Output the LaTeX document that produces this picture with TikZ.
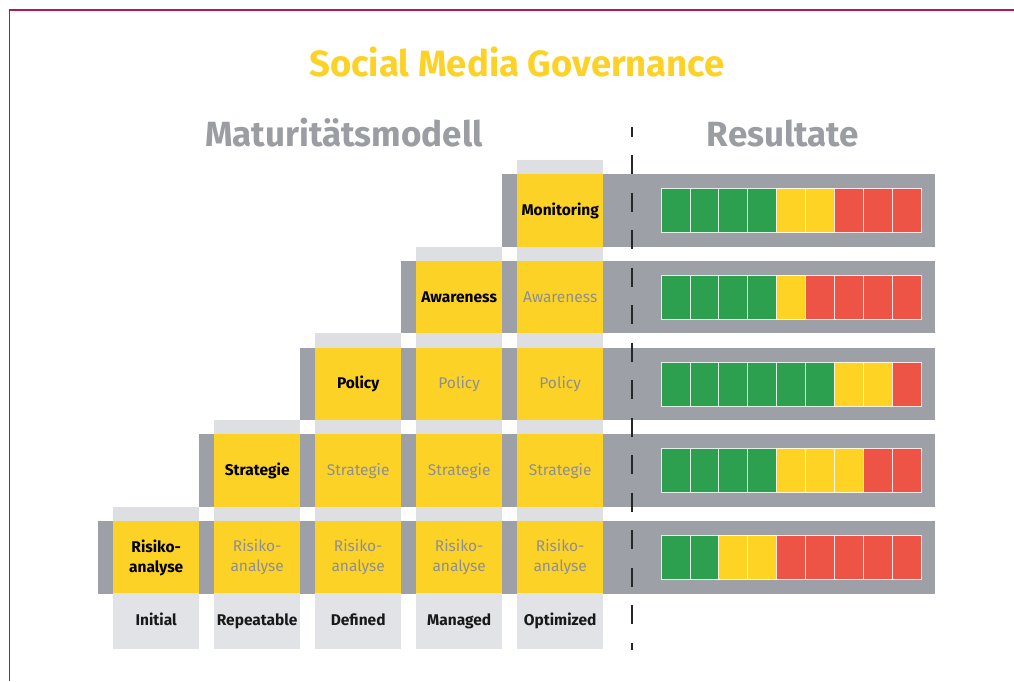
\documentclass[tikz,border=0pt]{standalone}
\usepackage{fontspec}
\setmainfont{Fira Sans}
\definecolor{frameRed}{HTML}{B5174E}
\definecolor{smYellow}{HTML}{FDD227}
\definecolor{bandGray}{HTML}{9DA1A7}
\definecolor{capGray}{HTML}{DDDFE2}
\definecolor{labelGray}{HTML}{E1E3E6}
\definecolor{cellGray}{HTML}{8C8F94}
\definecolor{headGray}{HTML}{9A9DA2}
\definecolor{segG}{HTML}{2CA04F}
\definecolor{segY}{HTML}{FED324}
\definecolor{segR}{HTML}{EE5446}
\begin{document}
\begin{tikzpicture}[x=1pt,y=-1pt,
  cellbox/.style={fill=smYellow, anchor=north west, minimum width=86pt,
    minimum height=72.5pt, inner sep=0pt, align=center,
    font=\fontsize{15.5}{20}\selectfont},
  activecell/.style={cellbox, text=black, font=\fontsize{15.5}{20}\selectfont\bfseries},
  passivecell/.style={cellbox, text=cellGray},
  levelbox/.style={fill=labelGray, anchor=north west, minimum width=86pt,
    minimum height=56pt, inner sep=0pt, text height=11pt, text depth=2pt,
    text=black!90, font=\fontsize{15.5}{19}\selectfont\bfseries},
  band/.style={fill=bandGray},
  capstrip/.style={fill=capGray},
  dashline/.style={line width=2.2pt, draw=black!85, dash pattern=on 19pt off 18.5pt, dash phase=9.5pt},
  heading/.style={anchor=base, text=headGray, font=\fontsize{35}{38}\selectfont\bfseries},
]
\useasboundingbox (0,0) rectangle (1014,681);
\fill[white] (0,0) rectangle (1014,681);

% page frame
\draw[frameRed, line width=1.6pt] (9.5,681) -- (9.5,10) -- (1014,10);

% titles
\node[anchor=base, text=smYellow, font=\fontsize{36.5}{40}\selectfont\bfseries]
  (title) at (517,76) {Social Media Governance};
\node[heading] (head-model) at (344,146) {Maturitätsmodell};
\node[heading] (head-result) at (783,146) {Resultate};

% maturity staircase: row r starts in column r
\foreach \r/\txt in {1/{Risiko-\\analyse},2/Strategie,3/Policy,4/Awareness,5/Monitoring}{
  \pgfmathsetmacro{\T}{521-86.75*(\r-1)}
  \pgfmathsetmacro{\Lr}{113+101*(\r-1)}
  % grey band through the row up to the results bar
  \fill[band] (\Lr-15,\T) rectangle (935,\T+72.5);
  \foreach \c in {\r,...,5}{
    \pgfmathsetmacro{\L}{113+101*(\c-1)}
    \fill[capstrip] (\L,\T-14.25) rectangle (\L+86,\T);
    \ifnum\c=\r
      \node[activecell] (cell-\r-\c) at (\L,\T) {\txt};
    \else
      \node[passivecell] (cell-\r-\c) at (\L,\T) {\txt};
    \fi
  }
}

% result bars (9 segments each)
\foreach \r/\pat in {1/{G,G,Y,Y,R,R,R,R,R},2/{G,G,G,G,Y,Y,Y,R,R},3/{G,G,G,G,G,G,Y,Y,R},4/{G,G,G,G,Y,R,R,R,R},5/{G,G,G,G,Y,Y,R,R,R}}{
  \pgfmathsetmacro{\T}{521-86.75*(\r-1)}
  \foreach \k [count=\i] in \pat{
    \pgfmathsetmacro{\X}{661+28.9*(\i-1)}
    \filldraw[fill=seg\k, draw=white!85!seg\k, line width=0.8pt]
      (\X,\T+14.5) rectangle (\X+28.9,\T+58.5);
  }
}

% maturity levels
\foreach \c/\lab in {1/Initial,2/Repeatable,3/Defined,4/Managed,5/Optimized}{
  \pgfmathsetmacro{\L}{113+101*(\c-1)}
  \node[levelbox] (level-\c) at (\L,593) {\lab};
}

% divider between model and results
\coordinate (div-top) at (632,127);
\coordinate (div-bottom) at (632,650);
\draw[dashline] (div-top) -- (div-bottom);
\end{tikzpicture}
\end{document}
